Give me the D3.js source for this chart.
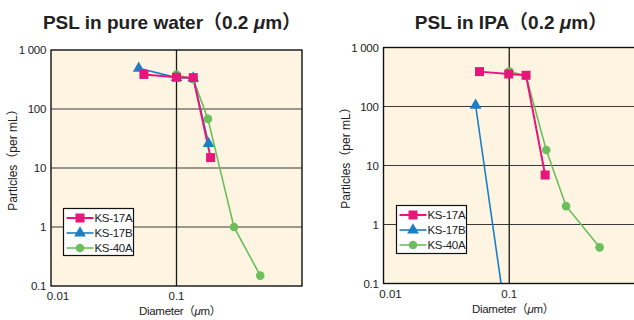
<!DOCTYPE html>
<html><head><meta charset="utf-8">
<script src="https://cdn.jsdelivr.net/npm/d3@7"></script>
<style>
body{margin:0;background:#fff;}
svg{display:block;font-family:"Liberation Sans","Noto Sans CJK JP",sans-serif;}
</style></head>
<body>
<svg id="c" width="634" height="320"></svg>
<script>
// ---- data ----
const seriesNames = ["KS-17A","KS-17B","KS-40A"];
const xTickLabels = ["0.01","0.1"];
const xTicks = [0.01,0.1];
const yTicks = [0.1,1,10,100,1000];
const yTickLabels = ["0.1","1","10","100","1 000"];

// Chart 1: PSL in pure water
const water17A = [[0.055,385],[0.1,345],[0.136,340],[0.187,15]];
const water17B = [[0.05,490],[0.1,340],[0.136,335],[0.18,26]];
const water40A = [[0.1,385],[0.136,320],[0.178,68],[0.287,1.0],[0.465,0.15]];

// Chart 2: PSL in IPA
const ipa17A = [[0.058,390],[0.099,355],[0.136,338],[0.193,6.9]];
const ipa17B = [[0.054,105],[0.1,0.0107]];
const ipa40A = [[0.1,395],[0.136,330],[0.197,18.3],[0.283,2.05],[0.523,0.41]];

const colors = {"KS-17A":"#e8157a","KS-17B":"#1b7fc4","KS-40A":"#6cbf5c"};
const widths = {"KS-17A":2,"KS-17B":1.6,"KS-40A":1.6};

const svg = d3.select("#c");

function drawChart(cfg){
  const g = svg.append("g");
  const x = d3.scaleLog().domain([0.01,1]).range([cfg.x0,cfg.x1]);
  const y = d3.scaleLog().domain([0.1,1000]).range([cfg.y1,cfg.y0]);
  const clipId = "clip"+cfg.id;
  svg.append("clipPath").attr("id",clipId).append("rect")
    .attr("x",cfg.x0).attr("y",cfg.y0).attr("width",cfg.x1-cfg.x0).attr("height",cfg.y1-cfg.y0);
  g.append("rect").attr("x",cfg.x0).attr("y",cfg.y0).attr("width",cfg.x1-cfg.x0).attr("height",cfg.y1-cfg.y0)
    .attr("fill","#fdf5e1");
  // grid
  g.selectAll(".hg").data(yTicks.slice(1,-1)).enter().append("line")
    .attr("x1",cfg.x0).attr("x2",cfg.x1).attr("y1",d=>y(d)).attr("y2",d=>y(d))
    .attr("stroke","#3a3a3a").attr("stroke-width",1.2);
  g.append("line").attr("x1",x(0.1)).attr("x2",x(0.1)).attr("y1",cfg.y0).attr("y2",cfg.y1)
    .attr("stroke","#1a1a1a").attr("stroke-width",1.3);
  // series
  const line = d3.line().x(d=>x(d[0])).y(d=>y(d[1]));
  const sg = g.append("g").attr("clip-path","url(#"+clipId+")");
  cfg.series.forEach(s=>{
    sg.append("path").datum(s.data).attr("d",line).attr("fill","none")
      .attr("stroke",colors[s.name]).attr("stroke-width",widths[s.name]).attr("stroke-linejoin","round");
  });
  // markers: draw green, blue, pink order
  cfg.series.forEach(s=>{
    s.data.filter(d=>d[1]>=0.1).forEach(d=>marker(sg,s.name,x(d[0]),y(d[1])));
  });
  // frame
  g.append("rect").attr("x",cfg.x0).attr("y",cfg.y0).attr("width",cfg.x1-cfg.x0).attr("height",cfg.y1-cfg.y0)
    .attr("fill","none").attr("stroke","#111").attr("stroke-width",1.4);
  // y tick labels
  g.selectAll(".yl").data(yTicks).enter().append("text")
    .attr("x",cfg.x0-5).attr("y",d=>y(d)+4).attr("text-anchor","end")
    .attr("font-size",11.5).attr("fill","#222").text((d,i)=>yTickLabels[i])
    .attr("letter-spacing",-0.3);
  // x tick labels
  g.selectAll(".xl").data(xTicks).enter().append("text")
    .attr("x",(d,i)=>i===0?x(d)+7:x(d)).attr("y",cfg.y1+14).attr("text-anchor","middle")
    .attr("font-size",11.5).attr("fill","#222").text((d,i)=>xTickLabels[i]);
  // axis titles
  const xt = g.append("text").attr("x",cfg.xTitleX).attr("y",cfg.y1+29).attr("text-anchor","middle")
    .attr("font-size",11.5).attr("fill","#222").attr("letter-spacing",-0.3);
  xt.append("tspan").text("Diameter（");
  xt.append("tspan").attr("font-style","italic").text("μ");
  xt.append("tspan").text("m）");
  g.append("text").attr("transform",`translate(${cfg.yTitleX},${cfg.yTitleY}) rotate(-90)`)
    .attr("text-anchor","middle").attr("font-size",12).attr("fill","#222")
    .text("Particles（per mL）");
  // title
  const t = g.append("text").attr("x",cfg.titleX).attr("y",29).attr("text-anchor","middle")
    .attr("font-size",19).attr("font-weight","bold").attr("fill","#222");
  t.append("tspan").text(cfg.title+"（0.2");
  t.append("tspan").attr("font-style","italic").text(" μ");
  t.append("tspan").text("m）");
  // legend
  const L = cfg.legend;
  g.append("rect").attr("x",L.x).attr("y",L.y).attr("width",L.w).attr("height",L.h)
    .attr("fill","#fff").attr("stroke","#111").attr("stroke-width",1.2);
  seriesNames.forEach((n,i)=>{
    const yy = L.y+L.row0+i*15;
    g.append("line").attr("x1",L.x+3).attr("x2",L.x+30).attr("y1",yy).attr("y2",yy)
      .attr("stroke",colors[n]).attr("stroke-width",widths[n]);
    marker(g,n,L.x+16.5,yy);
    g.append("text").attr("x",L.x+31).attr("y",yy+4).attr("font-size",11.5).attr("fill","#222")
      .attr("letter-spacing",-0.3).text(n);
  });
}

function marker(g,name,cx,cy){
  const c = colors[name];
  if(name==="KS-17A"){
    g.append("rect").attr("x",cx-4.5).attr("y",cy-4.5).attr("width",9).attr("height",9).attr("fill",c);
  } else if(name==="KS-17B"){
    g.append("path").attr("d",d3.symbol(d3.symbolTriangle,60)()).attr("transform",`translate(${cx},${cy})`).attr("fill",c);
  } else {
    g.append("circle").attr("cx",cx).attr("cy",cy).attr("r",4.3).attr("fill",c);
  }
}

drawChart({id:1,x0:51,x1:302,y0:50,y1:286,title:"PSL in pure water",titleX:172,xTitleX:180,yTitleX:17,yTitleY:157,
  series:[{name:"KS-40A",data:water40A},{name:"KS-17B",data:water17B},{name:"KS-17A",data:water17A}],
  legend:{x:63.5,y:208.5,w:70,h:47,row0:9.5}});
drawChart({id:2,x0:383.5,x1:635,y0:47.5,y1:283.5,title:"PSL in IPA",titleX:511,xTitleX:513,yTitleX:350,yTitleY:155,
  series:[{name:"KS-40A",data:ipa40A},{name:"KS-17B",data:ipa17B},{name:"KS-17A",data:ipa17A}],
  legend:{x:396.5,y:205.5,w:70,h:48,row0:9.5}});
</script>
</body></html>
